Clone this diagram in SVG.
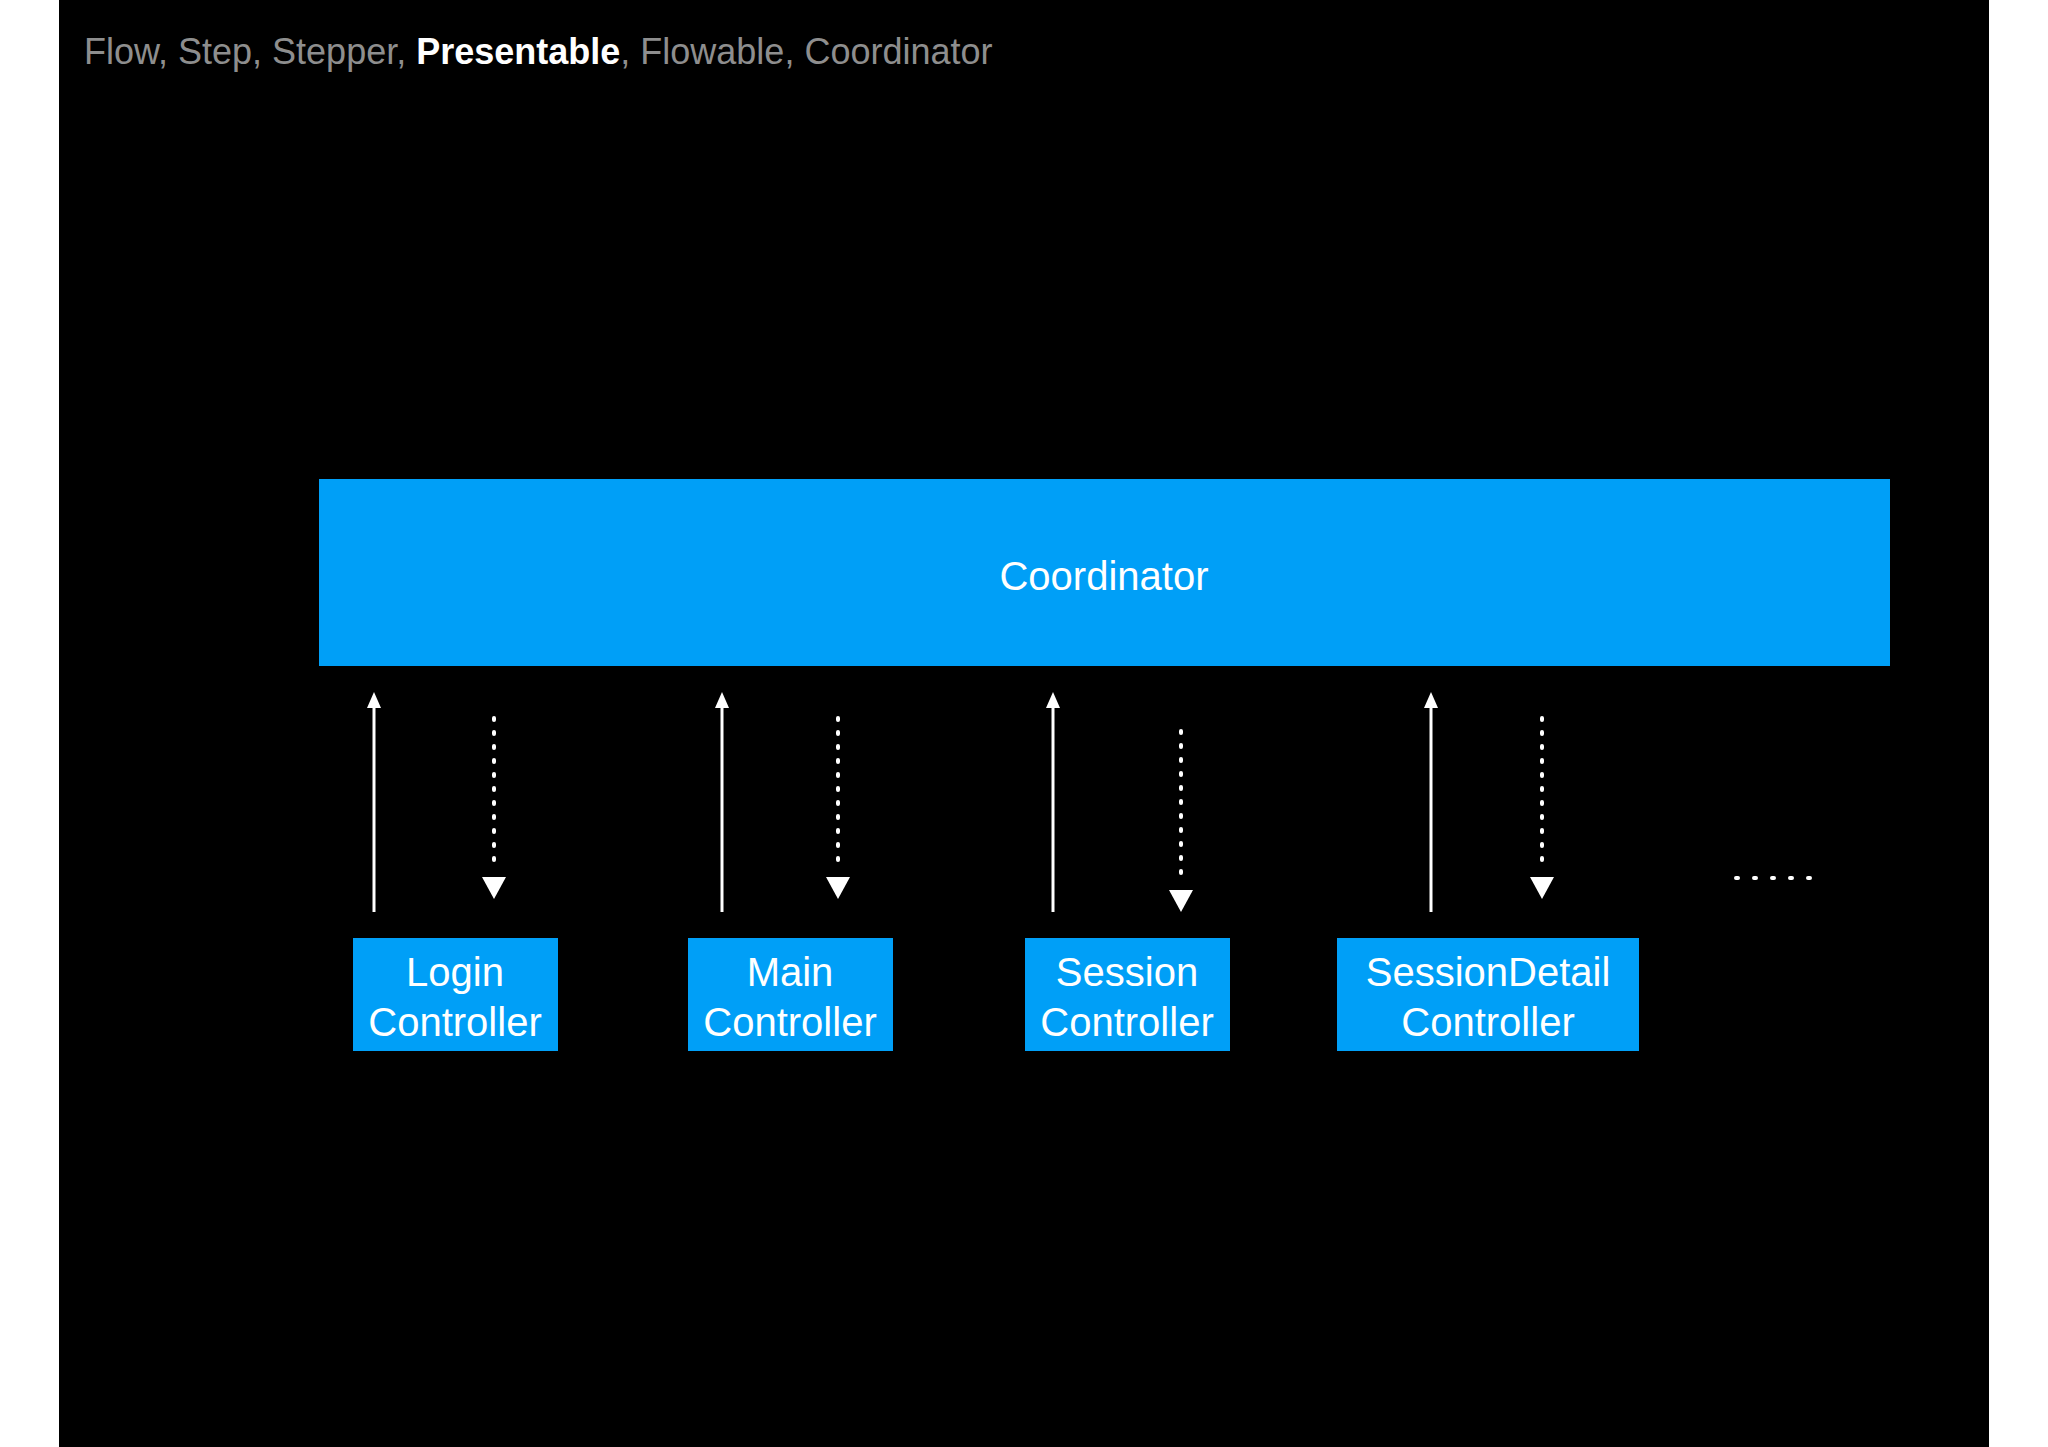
<svg xmlns="http://www.w3.org/2000/svg" width="2048" height="1447" viewBox="0 0 2048 1447">
<defs>
<style>
.box{fill:#009ff7}
.lbl{font-family:"Liberation Sans",Arial,sans-serif;fill:#fff;text-anchor:middle;font-size:40px}
.up{stroke:#fff;stroke-width:3;fill:none}
.dn{stroke:#fff;stroke-width:4;stroke-dasharray:2 12;stroke-linecap:round;fill:none}
</style>
<marker id="ah" viewBox="0 0 10 10" refX="9" refY="5" markerWidth="6" markerHeight="6" orient="auto" markerUnits="strokeWidth"><path d="M0,0 L10,5 L0,10 z" fill="#fff"/></marker>
<marker id="ah2" viewBox="0 0 10 10" refX="9" refY="5" markerWidth="6" markerHeight="6" orient="auto" markerUnits="userSpaceOnUse" style="overflow:visible"><path d="M-14,-12 L10,5 L-14,22 z" fill="#fff"/></marker>
</defs>
<rect width="2048" height="1447" fill="#fff"/>
<rect x="59" y="0" width="1930" height="1447" fill="#000"/>
<text x="84" y="64" font-family="Liberation Sans,Arial,sans-serif" font-size="36" fill="#8e8e8e">Flow, Step, Stepper, <tspan fill="#fff" font-weight="bold">Presentable</tspan>, Flowable, Coordinator</text>
<g id="coordinator"><rect class="box" x="319" y="479" width="1571" height="187"/><text class="lbl" x="1104" y="590" font-size="42">Coordinator</text></g>
<g id="login"><rect class="box" x="353" y="938" width="205" height="113"/><text class="lbl" x="455" y="986">Login</text><text class="lbl" x="455" y="1036">Controller</text></g>
<g id="main"><rect class="box" x="688" y="938" width="205" height="113"/><text class="lbl" x="790" y="986">Main</text><text class="lbl" x="790" y="1036">Controller</text></g>
<g id="session"><rect class="box" x="1025" y="938" width="205" height="113"/><text class="lbl" x="1127" y="986">Session</text><text class="lbl" x="1127" y="1036">Controller</text></g>
<g id="sessiondetail"><rect class="box" x="1337" y="938" width="302" height="113"/><text class="lbl" x="1488" y="986">SessionDetail</text><text class="lbl" x="1488" y="1036">Controller</text></g>
<g id="connectors">
<g class="up">
<line x1="374" y1="912" x2="374" y2="704"/><line x1="722" y1="912" x2="722" y2="704"/><line x1="1053" y1="912" x2="1053" y2="704"/><line x1="1431" y1="912" x2="1431" y2="704"/>
</g>
<g fill="#fff">
<path d="M374,692 l-7,16 h14 z"/><path d="M722,692 l-7,16 h14 z"/><path d="M1053,692 l-7,16 h14 z"/><path d="M1431,692 l-7,16 h14 z"/>
<path d="M494,899 l-12,-22 h24 z"/><path d="M838,899 l-12,-22 h24 z"/><path d="M1181,912 l-12,-22 h24 z"/><path d="M1542,899 l-12,-22 h24 z"/>
</g>
<g class="dn">
<line x1="494" y1="718" x2="494" y2="872"/><line x1="838" y1="718" x2="838" y2="872"/><line x1="1181" y1="731" x2="1181" y2="885"/><line x1="1542" y1="718" x2="1542" y2="872"/>
<line x1="1736" y1="878" x2="1810" y2="878" stroke-dasharray="2 16"/>
</g>
</g>
</svg>
